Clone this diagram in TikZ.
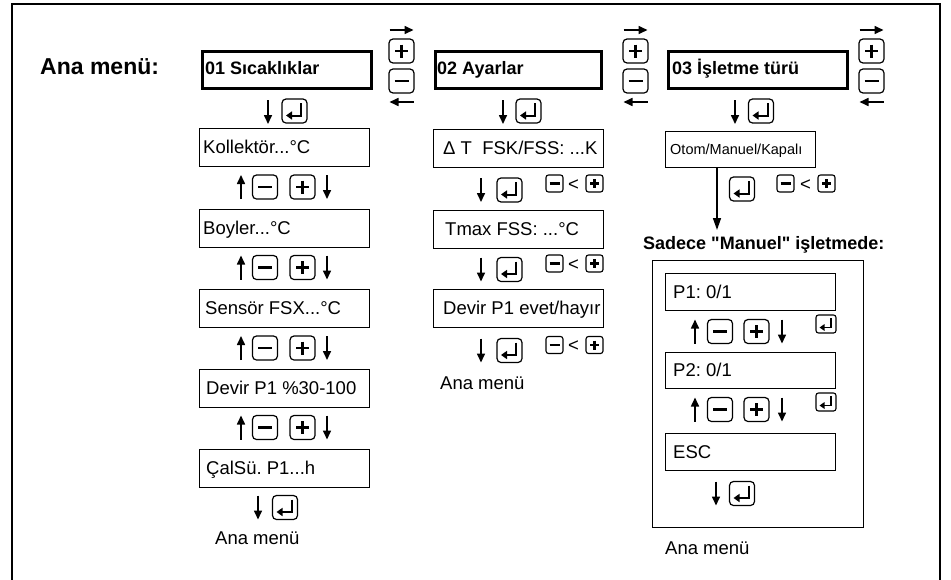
\documentclass[tikz,border=0pt]{standalone}
\usepackage{fontspec}
\setmainfont{Liberation Sans}[Ligatures=TeXOff]
\usetikzlibrary{arrows.meta}
\frenchspacing
\begin{document}
\begin{tikzpicture}[x=1pt,y=-1pt,
  frame/.style={line width=1.2pt},
  mainbox/.style={draw, line width=3.2pt, inner sep=0pt, anchor=north west, minimum height=37pt},
  box/.style={draw, line width=1.2pt, inner sep=0pt, anchor=north west, minimum height=38pt, minimum width=170pt},
  txt/.style={inner sep=0pt, anchor=west, font=\fontsize{18.5}{22}\selectfont, text height=13.3pt, text depth=0pt},
  btxt/.style={txt, font=\bfseries\fontsize{18}{22}\selectfont, text height=12.9pt},
  arr/.style={line width=1.6pt, -{Triangle[length=9pt,width=8pt]}},
  keyframe/.style={draw, line width=1.2pt, rounded corners=4pt},
  skeyframe/.style={draw, line width=1.1pt, rounded corners=2.5pt},
  sym/.style={line width=2.8pt},
  ssym/.style={line width=2.2pt},
  pics/pluskey/.style={code={\draw[keyframe] (-12.5,-12) rectangle (12.5,12);
      \draw[sym] (-6.5,0)--(6.5,0) (0,-6.5)--(0,6.5);}},
  pics/minuskey/.style={code={\draw[keyframe] (-12.5,-12) rectangle (12.5,12);
      \draw[sym] (-7,0)--(7,0);}},
  pics/splus/.style={code={\draw[skeyframe] (-8.5,-8.5) rectangle (8.5,8.5);
      \draw[ssym] (-4.5,0)--(4.5,0) (0,-4.5)--(0,4.5);}},
  pics/sminus/.style={code={\draw[skeyframe] (-8.5,-8.5) rectangle (8.5,8.5);
      \draw[ssym] (-5,0)--(5,0);}},
  pics/enterkey/.style={code={\draw[keyframe] (-12.5,-12) rectangle (12.5,12);
      \draw[line width=2pt, -{Triangle[length=6pt,width=8pt]}] (6.5,-8)--(6.5,4.5)--(-8.5,4.5);}},
  pics/senter/.style={code={\draw[skeyframe] (-10,-9) rectangle (10,9);
      \draw[line width=1.8pt, -{Triangle[length=5pt,width=6.5pt]}] (5,-6)--(5,3.5)--(-6.5,3.5);}},
  pics/uparr/.style={code={\draw[arr] (0,12)--(0,-12);}},
  pics/dnarr/.style={code={\draw[arr] (0,-12)--(0,12);}},
  pics/rtarr/.style={code={\draw[arr] (-12,0)--(12,0);}},
  pics/ltarr/.style={code={\draw[arr] (12,0)--(-12,0);}},
]
\useasboundingbox (0,0) rectangle (951,579);
\clip (0,0) rectangle (951,579);
\draw[frame] (12,600) -- (12,4) -- (940,4) -- (940,600);

% title
\node[txt, font=\bfseries\fontsize{23}{26}\selectfont, text height=16.5pt] (title) at (40,66) {Ana menü:};

% main menu boxes
\node[mainbox, minimum width=169pt] (m1) at (200.6,49.6) {};
\node[btxt] (m1t) at (205,68) {01 Sıcaklıklar};
\node[mainbox, minimum width=166pt] (m2) at (433.6,49.6) {};
\node[btxt] (m2t) at (437,68) {02 Ayarlar};
\node[mainbox, minimum width=179pt] (m3) at (666.6,49.6) {};
\node[btxt] (m3t) at (672,68) {03 İşletme türü};

% navigation keys between main boxes
\foreach \cx in {401.5,635.5,871.5} {
  \pic at (\cx,30) {rtarr};
  \pic at (\cx,51) {pluskey};
  \pic at (\cx,81) {minuskey};
  \pic at (\cx,102) {ltarr};
}

% enter rows below main boxes
\pic at (268,112) {dnarr}; \pic at (294.5,111) {enterkey};
\pic at (503,112) {dnarr}; \pic at (528.5,111) {enterkey};
\pic at (735,112) {dnarr}; \pic at (761,111) {enterkey};

% column 1
\node[box] (c1a) at (199,128) {};
\node[txt] (c1at) at (203,147) {Kollektör...°C};
\node[box] (c1b) at (199,209) {};
\node[txt] (c1bt) at (203,228) {Boyler...°C};
\node[box] (c1c) at (199,289) {};
\node[txt] (c1ct) at (205,308) {Sensör FSX...°C};
\node[box] (c1d) at (199,369) {};
\node[txt] (c1dt) at (206,388) {Devir P1 \%30-100};
\node[box] (c1e) at (199,449) {};
\node[txt] (c1et) at (206,468) {ÇalSü. P1...h};
\foreach \y in {187,267.5,348,427.5} {
  \pic at (241,\y) {uparr};
  \pic at (265,\y) {minuskey};
  \pic at (302.5,\y) {pluskey};
  \pic at (327,\y) {dnarr};
}
\pic at (258,507.5) {dnarr}; \pic at (285,507.5) {enterkey};
\node[txt] (c1end) at (215,538) {Ana menü};

% column 2
\node[box] (c2a) at (433,129) {};
\node[txt] (c2at) at (443,148) {Δ T\ \ FSK/FSS: ...K};
\node[box] (c2b) at (433,210) {};
\node[txt] (c2bt) at (445,228.5) {Tmax FSS: ...°C};
\node[box] (c2c) at (433,289) {};
\node[txt] (c2ct) at (443,308) {Devir P1 evet/hayır};
\foreach \y/\s [count=\i] in {190/183.5,269.5/263.5,350.5/345} {
  \pic at (481,\y) {dnarr};
  \pic at (509.5,\y) {enterkey};
  \pic at (554.5,\s) {sminus};
  \node[txt, anchor=center] (lt\i) at (573.5,\s) {<};
  \pic at (594.5,\s) {splus};
}
\node[txt] (c2end) at (440,383) {Ana menü};

% column 3
\node[box, minimum width=150pt, minimum height=36pt] (c3a) at (665,131) {};
\node[txt, font=\fontsize{14.5}{17}\selectfont, text height=10.4pt] (c3at) at (670,149) {Otom/Manuel/Kapalı};
\pic at (742,189) {enterkey};
\pic at (785.5,183.5) {sminus};
\node[txt, anchor=center] (lt4) at (805.5,183.5) {<};
\pic at (826.5,183.5) {splus};
\node[btxt] (sad) at (643,243) {Sadece "Manuel" işletmede:};
\coordinate (ctip) at (717,230);
\draw[line width=1.5pt, -{Triangle[length=12pt,width=8pt]}] (c3a.south -| ctip) -- (ctip);

\node[draw, line width=1.2pt, inner sep=0pt, anchor=north west, minimum width=211pt, minimum height=267pt] (mframe) at (652,260) {};
\node[box, minimum height=37pt] (p1) at (665,273) {};
\node[txt] (p1t) at (673,291.5) {P1: 0/1};
\node[box, minimum height=36pt] (p2) at (665,352) {};
\node[txt] (p2t) at (673,370) {P2: 0/1};
\node[box, minimum height=37pt] (esc) at (665,433) {};
\node[txt] (esct) at (673,451.5) {ESC};
\foreach \y/\e in {331.5/324,409.5/402} {
  \pic at (695,\y) {uparr};
  \pic at (720,\y) {minuskey};
  \pic at (756.5,\y) {pluskey};
  \pic at (782,\y) {dnarr};
  \pic at (826,\e) {senter};
}
\pic at (716,493.5) {dnarr}; \pic at (742,493.5) {enterkey};
\node[txt] (c3end) at (665,548) {Ana menü};
\end{tikzpicture}
\end{document}
